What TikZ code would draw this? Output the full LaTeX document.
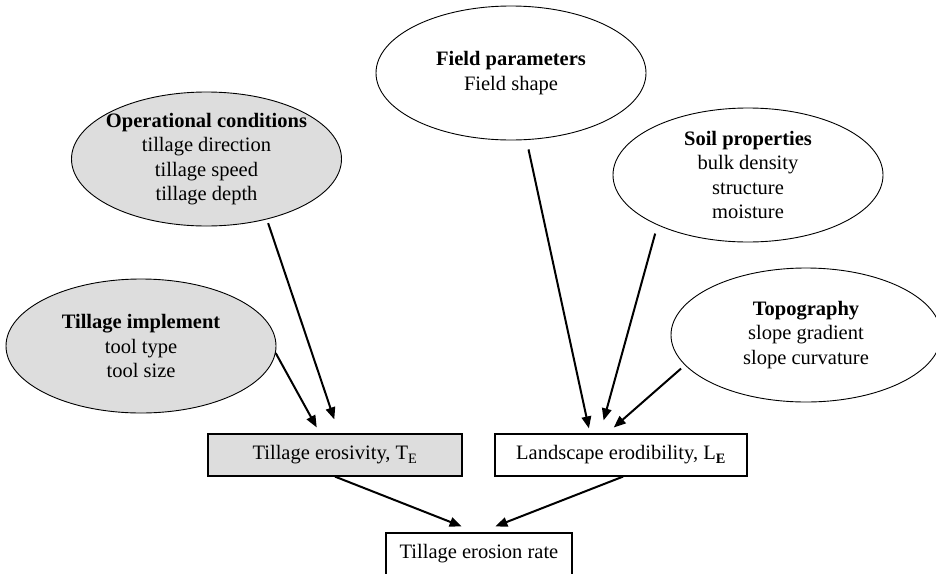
\documentclass[tikz,border=0pt]{standalone}
\usepackage{fontspec}
\setmainfont{Liberation Serif}
\usetikzlibrary{shapes.geometric,arrows.meta,calc}
\definecolor{shadegray}{HTML}{DDDDDD}
\begin{document}
\begin{tikzpicture}[x=1pt,y=-1pt,
  every node/.style={font=\fontsize{20.5}{24.5}\selectfont, align=center},
  blob/.style={ellipse, draw, line width=0.9pt, minimum width=270pt, minimum height=134pt, inner sep=-14pt},
  shaded/.style={fill=shadegray},
  boxnode/.style={rectangle, draw, line width=1.2pt, minimum height=42pt, inner sep=0pt},
  arr/.style={line width=2pt, -{Triangle[length=12pt,width=9.5pt]}}
]
\useasboundingbox (0,0) rectangle (936,573);

\node[blob,shaded] (opc) at (206.5,159) {\textbf{Operational conditions}\\tillage direction\\tillage speed\\tillage depth};
\node[blob,shaded] (impl) at (141,346) {\textbf{Tillage implement}\\tool type\\tool size};
\node[blob] (field) at (511,73) {\textbf{Field parameters}\\Field shape};
\node[blob] (soil) at (748,175) {\textbf{Soil properties}\\bulk density\\structure\\moisture};
\node[blob] (topo) at (806,335) {\textbf{Topography}\\slope gradient\\slope curvature};

\node[boxnode,shaded,minimum width=254pt] (te) at (335,455) {Tillage erosivity, T\textsubscript{E}};
\node[boxnode,minimum width=252pt] (le) at (621,455) {Landscape erodibility, L\textsubscript{\textbf{E}}};
\node[boxnode,minimum width=186pt] (rate) at (479,554) {Tillage erosion rate};

\draw[arr, shorten >=6.8pt] (impl.-3) -- ([xshift=-15pt]te.north);
\draw[arr, shorten <=4pt, shorten >=14.8pt] (opc.-45.5) -- ([xshift=4pt]te.north);
\draw[arr, shorten <=9.6pt, shorten >=5.1pt] (field.-77.15) -- ([xshift=-31pt]le.north);
\draw[arr, shorten <=8.7pt, shorten >=13.5pt] (soil.-151.3) -- ([xshift=-21pt]le.north);
\draw[arr, shorten <=5.1pt, shorten >=9pt] (topo.-166.2) -- ([xshift=-14pt]le.north);
\draw[arr, shorten >=16.5pt] (te.south) -- ([xshift=-2pt]rate.north);
\draw[arr, shorten >=16.5pt] ([xshift=2pt]le.south) -- ([xshift=1pt]rate.north);
\end{tikzpicture}
\end{document}
